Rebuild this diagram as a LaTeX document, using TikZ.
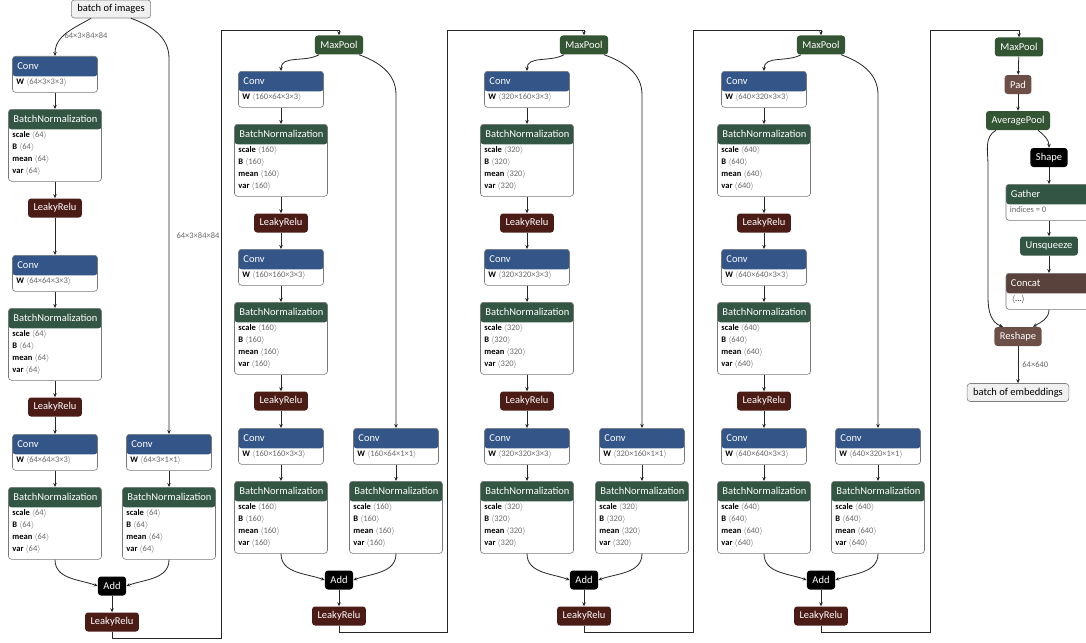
\documentclass[tikz,border=0pt]{standalone}
\usepackage{fontspec}
\setmainfont{Carlito}
\usetikzlibrary{arrows.meta,calc}

\definecolor{layercol}{RGB}{51,85,136}
\definecolor{normcol}{RGB}{51,85,68}
\definecolor{poolcol}{RGB}{51,85,51}
\definecolor{actcol}{RGB}{75,27,22}
\definecolor{shapecol}{RGB}{108,79,71}
\definecolor{tensorcol}{RGB}{89,66,59}
\definecolor{dimgray}{RGB}{105,105,105}
\definecolor{framegray}{RGB}{120,120,120}

\tikzset{
  op/.style={rounded corners=3pt, text=white, font=\fontsize{10.5}{12}\selectfont,
    minimum height=19pt, inner xsep=5.5pt, inner ysep=0pt},
  act/.style={op, fill=actcol},
  pool/.style={op, fill=poolcol},
  plain/.style={op, fill=black},
  io/.style={op, text=black, fill=gray!12, draw=gray, line width=0.6pt, minimum height=18pt, inner xsep=6pt},
  boxframe/.style={draw=framegray, fill=white, rounded corners=3pt, line width=0.6pt, inner sep=0pt},
  boxtitle/.style={anchor=west, text=white, font=\fontsize{10.5}{12}\selectfont, inner sep=0pt},
  boxbody/.style={anchor=north west, align=left, font=\fontsize{8.5}{12}\selectfont, inner sep=0pt},
  dimlabel/.style={text=dimgray, font=\fontsize{8.5}{10}\selectfont, inner sep=1pt},
  edge/.style={draw=black!85, line width=0.8pt, -{Stealth[length=4pt,width=3.5pt]}}
}

\newcommand\attr[2]{\textbf{#1}\ \textcolor{dimgray}{$\langle$#2$\rangle$}}

% name, x, top y, width, height, colour, title, body
\newcommand\opbox[8]{%
  \node[boxframe, minimum width=#4pt, minimum height=#5pt, anchor=north,
    path picture={\fill[#6] (path picture bounding box.north west) rectangle
      ([yshift=-20pt]path picture bounding box.north east);}] (#1) at (#2,#3) {};
  \node[boxtitle] (#1t) at ([xshift=5pt,yshift=-10pt]#1.north west) {#7};
  \node[boxbody] (#1b) at ([xshift=4pt,yshift=-22pt]#1.north west) {#8};
}

\begin{document}
\begin{tikzpicture}[x=1pt,y=-1pt]
  % Frame
  \clip (0,0) rectangle (1086,642);
  \fill[white] (0,0) rectangle (1086,642);

  % Input and pooling heads
  \node[io] (img) at (111,9) {batch of images};
  \foreach \s/\x/\y in {2/339/45, 3/584/45, 4/821/45, 5/1019/47}
    \node[pool] (mp\s) at (\x,\y) {MaxPool};

  % Residual stages
  \foreach \s/\src/\lx/\rx/\mx/\c/\p/\ya/\yb/\yc in {
      1/img/55/169/112/64/3/56/255/434,
      2/mp2/281/396/339/160/64/71/249/428,
      3/mp3/527/642/584/320/160/71/249/428,
      4/mp4/764/878/821/640/320/71/249/428}{
    \opbox{ca\s}{\lx}{\ya}{85}{36}{layercol}{Conv}{\attr{W}{\c×\p×3×3}}
    \opbox{na\s}{\lx}{\ya+53}{93}{72}{normcol}{BatchNormalization}
      {\attr{scale}{\c}\\\attr{B}{\c}\\\attr{mean}{\c}\\\attr{var}{\c}}
    \node[act] (la\s) at (\lx,\ya+152) {LeakyRelu};
    \opbox{cb\s}{\lx}{\yb}{85}{36}{layercol}{Conv}{\attr{W}{\c×\c×3×3}}
    \opbox{nb\s}{\lx}{\yb+53}{93}{72}{normcol}{BatchNormalization}
      {\attr{scale}{\c}\\\attr{B}{\c}\\\attr{mean}{\c}\\\attr{var}{\c}}
    \node[act] (lb\s) at (\lx,\yb+152) {LeakyRelu};
    \opbox{cc\s}{\lx}{\yc}{85}{36}{layercol}{Conv}{\attr{W}{\c×\c×3×3}}
    \opbox{nc\s}{\lx}{\yc+53}{93}{72}{normcol}{BatchNormalization}
      {\attr{scale}{\c}\\\attr{B}{\c}\\\attr{mean}{\c}\\\attr{var}{\c}}
    \opbox{cr\s}{\rx}{\yc}{85}{36}{layercol}{Conv}{\attr{W}{\c×\p×1×1}}
    \opbox{nr\s}{\rx}{\yc+53}{93}{72}{normcol}{BatchNormalization}
      {\attr{scale}{\c}\\\attr{B}{\c}\\\attr{mean}{\c}\\\attr{var}{\c}}
    \node[plain] (add\s) at (\mx,\yc+152) {Add};
    \node[act] (out\s) at (\mx,\yc+188) {LeakyRelu};

    \draw[edge] ([xshift=-20pt]\src.south) to[out=-150,in=90] (ca\s.north);
    \draw[edge] ([xshift=20pt]\src.south) to[out=-20,in=90]
      ($(\src.south -| cr\s.north)+(0,40)$) -- (cr\s.north);
    \draw[edge] (ca\s) -- (na\s);
    \draw[edge] (na\s) -- (la\s);
    \draw[edge] (la\s) -- (cb\s);
    \draw[edge] (cb\s) -- (nb\s);
    \draw[edge] (nb\s) -- (lb\s);
    \draw[edge] (lb\s) -- (cc\s);
    \draw[edge] (cc\s) -- (nc\s);
    \draw[edge] (cr\s) -- (nr\s);
    \draw[edge] (nc\s.south) to[out=-90,in=160] (add\s.west);
    \draw[edge] (nr\s.south) to[out=-90,in=20] (add\s.east);
    \draw[edge] (add\s) -- (out\s);
  }

  % Stage links
  \foreach \s/\gx/\by in {1/221/638, 2/447/632, 3/693/632, 4/930/632}{
    \pgfmathtruncatemacro\nxt{\s+1}
    \draw[edge] (out\s.south) |- (\gx,\by) -- (\gx,30) -| (mp\nxt.north);
  }

  % Input shape labels
  \node[dimlabel] (lbla) at (86,36) {64×3×84×84};
  \node[dimlabel] (lblb) at (198,236) {64×3×84×84};

  % Embedding head
  \node[op, fill=shapecol] (pad) at (1018,84.5) {Pad};
  \node[pool] (avg) at (1018,120.5) {AveragePool};
  \node[plain] (shape) at (1049,157.5) {Shape};
  \opbox{gather}{1049}{184}{86}{36}{normcol}{Gather}{\textcolor{dimgray}{indices = 0}}
  \node[op, fill=normcol] (unsq) at (1049,246) {Unsqueeze};
  \opbox{concat}{1049}{273}{86}{36}{tensorcol}{Concat}{\ \textcolor{black}{$\langle$...$\rangle$}}
  \node[op, fill=shapecol] (reshape) at (1018,336.5) {Reshape};
  \node[io] (emb) at (1018,392.5) {batch of embeddings};

  \draw[edge] (mp5) -- (pad);
  \draw[edge] (pad) -- (avg);
  \draw[edge] ([xshift=20pt]avg.south) to[out=-40,in=90] (shape.north);
  \draw[edge] ([xshift=-22pt]avg.south) to[out=-150,in=90] (988,165) -- (988,298)
    to[out=-90,in=160] ([xshift=-15pt]reshape.north);
  \draw[edge] (shape) -- (gather);
  \draw[edge] (gather) -- (unsq);
  \draw[edge] (unsq) -- (concat);
  \draw[edge] (concat.south) to[out=-90,in=30] ([xshift=15pt]reshape.north);
  \draw[edge] (reshape) -- (emb) node[dimlabel, midway, right=3pt] (lblc) {64×640};
\end{tikzpicture}
\end{document}
